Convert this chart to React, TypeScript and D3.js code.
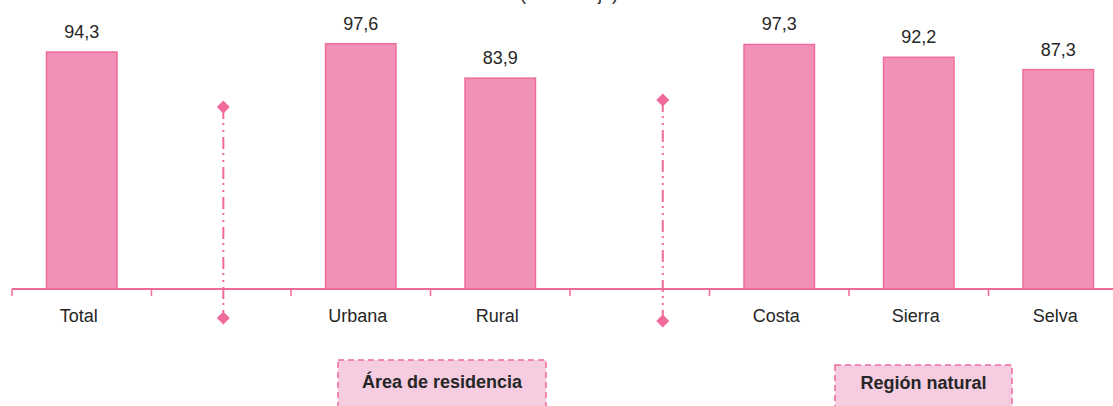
import React from "react";
import * as d3 from "d3";

const categoryKeys = ["Total", "sep1", "Urbana", "Rural", "sep2", "Costa", "Sierra", "Selva"];
const categoryLabels = ["Total", "", "Urbana", "Rural", "", "Costa", "Sierra", "Selva"];
const values: (number | null)[] = [94.3, null, 97.6, 83.9, null, 97.3, 92.2, 87.3];
const valueLabels = ["94,3", "", "97,6", "83,9", "", "97,3", "92,2", "87,3"];

const dividerSlots = ["sep1", "sep2"];
const dividerTop = [72.4, 75.2];
const dividerBottom = [-11.5, -12.7];

const groupLabels = ["Área de residencia", "Región natural"];
const titleText = "(Porcentaje)";

const W = 1113;
const H = 406;
const FONT = "'Liberation Sans', Arial, sans-serif";
const BAR_FILL = "#F291B7";
const BAR_STROKE = "#EE6B9B";
const PINK = "#F06A9B";
const TEXT = "#262626";

export default function App() {
  const x = d3.scaleBand<string>().domain(categoryKeys).range([12, 1128]).padding(0);
  const y = d3.scaleLinear().domain([0, 100]).range([289, 289 - 251.3]);
  const bw = x.bandwidth();
  const barW = bw * 0.505;
  const dividerOffset = [0.515, 0.665];
  const boxes = [
    { x0: 338, x1: 546, y0: 360, ty: 388 },
    { x0: 835, x1: 1012, y0: 365, ty: 389 },
  ];
  const ticks = categoryKeys.map((k) => x(k) as number).concat([x.range()[1]]);

  return (
    <svg
      width={W}
      height={H}
      style={{ position: "absolute", left: 0, top: 0, background: "#fff" }}
      fontFamily={FONT}
    >
      <text x={569} y={0} textAnchor="middle" fontSize={18} fill={TEXT}>
        {titleText}
      </text>

      {/* bars */}
      {categoryKeys.map((k, i) => {
        const v = values[i];
        if (v == null) return null;
        const cx = (x(k) as number) + bw / 2;
        return (
          <g key={k}>
            <rect
              x={cx - barW / 2}
              y={y(v)}
              width={barW}
              height={y(0) - y(v)}
              fill={BAR_FILL}
              stroke={BAR_STROKE}
              strokeWidth={1.5}
            />
            <text x={cx} y={y(v) - 14} textAnchor="middle" fontSize={18} fill={TEXT}>
              {valueLabels[i]}
            </text>
          </g>
        );
      })}

      {/* axis */}
      <line x1={ticks[0]} x2={ticks[ticks.length - 1]} y1={y(0)} y2={y(0)} stroke={PINK} strokeWidth={2} />
      {ticks.map((t, i) => (
        <line key={i} x1={t} x2={t} y1={y(0)} y2={y(0) + 7} stroke={PINK} strokeWidth={1.5} />
      ))}
      {categoryKeys.map((k, i) =>
        categoryLabels[i] ? (
          <text
            key={k}
            x={(x(k) as number) + bw / 2 - 3}
            y={322}
            textAnchor="middle"
            fontSize={18}
            fill={TEXT}
          >
            {categoryLabels[i]}
          </text>
        ) : null
      )}

      {/* dividers */}
      {dividerSlots.map((s, i) => {
        const dx = (x(s) as number) + bw * dividerOffset[i];
        const yt = y(dividerTop[i]);
        const yb = y(dividerBottom[i]);
        const d = 6.5;
        return (
          <g key={s}>
            <line
              x1={dx}
              x2={dx}
              y1={yt}
              y2={yb}
              stroke={PINK}
              strokeWidth={2}
              strokeDasharray="12 4 2 5 2 5"
            />
            <path d={`M${dx},${yt - d}L${dx + d},${yt}L${dx},${yt + d}L${dx - d},${yt}Z`} fill={PINK} />
            <path d={`M${dx},${yb - d}L${dx + d},${yb}L${dx},${yb + d}L${dx - d},${yb}Z`} fill={PINK} />
          </g>
        );
      })}

      {/* group boxes */}
      {groupLabels.map((g, i) => {
        const b = boxes[i];
        return (
          <g key={g}>
            <rect
              x={b.x0}
              y={b.y0}
              width={b.x1 - b.x0}
              height={H - b.y0 + 10}
              fill="#F5CCE0"
              stroke={PINK}
              strokeWidth={1.5}
              strokeDasharray="6 4"
            />
            <text
              x={(b.x0 + b.x1) / 2}
              y={b.ty}
              textAnchor="middle"
              fontSize={18}
              fontWeight="bold"
              fill={TEXT}
            >
              {g}
            </text>
          </g>
        );
      })}
    </svg>
  );
}
